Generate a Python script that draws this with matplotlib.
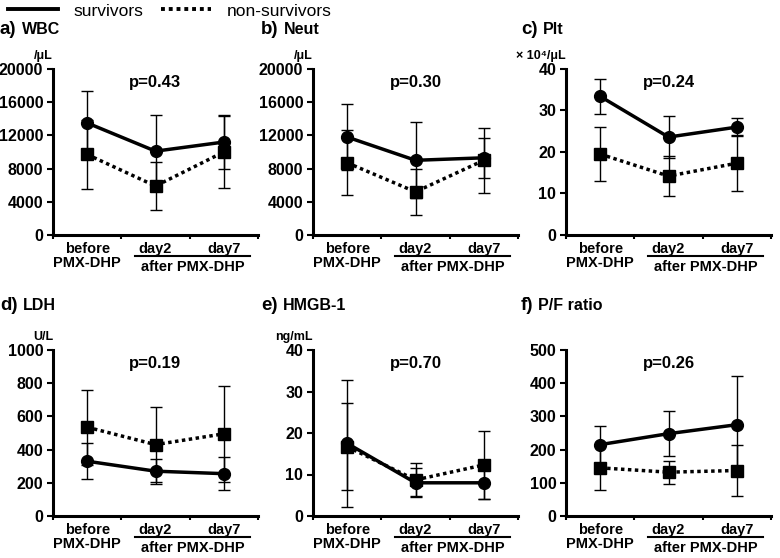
#!/usr/bin/env python3

from matplotlib import pyplot as plt
from matplotlib.lines import Line2D
import matplotlib.transforms as mtransforms

plt.rcParams["font.family"] = ["Liberation Sans", "DejaVu Sans"]

FIGSIZE = (7.8, 5.58)

CATEGORIES = ["before\nPMX-DHP", "day2", "day7"]
GROUP_LABEL = "after PMX-DHP"

# panel letters, names, units, p values, y limits and ticks
LETTERS = ["a)", "b)", "c)", "d)", "e)", "f)"]
NAMES = ["WBC", "Neut", "Plt", "LDH", "HMGB-1", "P/F ratio"]
UNITS = ["/μL", "/μL", "× 10⁴/μL", "U/L", "ng/mL", ""]
PVALUES = ["p=0.43", "p=0.30", "p=0.24", "p=0.19", "p=0.70", "p=0.26"]
YMAX = [20000, 20000, 40, 1000, 40, 500]
YSTEP = [4000, 4000, 10, 200, 10, 100]

# mean and SD per panel (before, day2, day7)
surv_mean = [
    [13500, 10100, 11200],
    [11800, 9000, 9300],
    [33.4, 23.6, 26.0],
    [330, 270, 255],
    [17.5, 8.0, 8.0],
    [215, 248, 275],
]
surv_sd = [
    [3800, 4400, 3300],
    [4000, 4600, 2400],
    [4.2, 5.0, 2.2],
    [110, 75, 100],
    [15.3, 3.5, 4.0],
    [55, 67, 147],
]
nonsurv_mean = [
    [9700, 5900, 10000],
    [8700, 5200, 9000],
    [19.5, 14.2, 17.3],
    [535, 430, 495],
    [16.7, 8.7, 12.3],
    [145, 132, 137],
]
nonsurv_sd = [
    [4100, 2900, 4300],
    [3900, 2800, 3900],
    [6.5, 4.8, 6.8],
    [225, 225, 290],
    [10.5, 4.0, 8.2],
    [67, 35, 78],
]


def plot_panel(fig, rect, i):
    ax = fig.add_axes(rect)
    xs = [0.5, 1.5, 2.5]

    ax.errorbar(xs, nonsurv_mean[i], yerr=nonsurv_sd[i], fmt="s",
                linestyle=(0, (1, 1)), color="black", lw=2.5, ms=8,
                elinewidth=1, ecolor="black", capsize=4, capthick=1)
    ax.errorbar(xs, surv_mean[i], yerr=surv_sd[i], fmt="o-",
                color="black", lw=2.5, ms=8.5, elinewidth=1,
                ecolor="black", capsize=4, capthick=1)

    ax.set_xlim(0, 3)
    ax.set_ylim(0, YMAX[i])
    ax.set_yticks(range(0, YMAX[i] + 1, YSTEP[i]))
    ax.set_xticks([0, 1, 2, 3])
    ax.set_xticklabels([])
    ax.spines["top"].set_visible(False)
    ax.spines["right"].set_visible(False)
    ax.spines["left"].set_linewidth(2.2)
    ax.spines["bottom"].set_linewidth(2.2)
    ax.tick_params(axis="y", direction="out", length=4, width=1.5,
                   labelsize=11.5, pad=3)
    ax.tick_params(axis="x", direction="out", length=3, width=1.5)
    for lab in ax.get_yticklabels():
        lab.set_fontweight("bold")

    trans = mtransforms.blended_transform_factory(ax.transData, ax.transAxes)
    ax.text(1.5, 0.92, PVALUES[i], transform=trans, ha="center",
            va="center", fontsize=12, fontweight="bold")

    # category labels
    ax.text(0.5, -0.04, CATEGORIES[0], transform=trans, ha="center",
            va="top", fontsize=10.5, fontweight="bold", linespacing=1.05)
    ax.text(1.5, -0.04, CATEGORIES[1], transform=trans, ha="center",
            va="top", fontsize=10.5, fontweight="bold")
    ax.text(2.5, -0.04, CATEGORIES[2], transform=trans, ha="center",
            va="top", fontsize=10.5, fontweight="bold")
    ax.plot([1.2, 2.88], [-0.125, -0.125], transform=trans, color="black",
            lw=1.5, clip_on=False)
    ax.text(2.04, -0.15, GROUP_LABEL, transform=trans, ha="center",
            va="top", fontsize=10.5, fontweight="bold")

    # unit label
    ax.text(0.0, 1.04, UNITS[i], transform=ax.transAxes, ha="right",
            va="bottom", fontsize=9, fontweight="bold")
    return ax


def main():
    fig = plt.figure(figsize=FIGSIZE, dpi=100)

    lefts = [53 / 780, 313 / 780, 566 / 780]
    width = 205 / 780
    bottoms = [1 - 235 / 558, 1 - 516 / 558]
    height = 166 / 558

    title_x = [0 / 780, 261 / 780, 521 / 780]
    title_y = [1 - 29 / 558, 1 - 305 / 558]

    for i in range(6):
        r, c = divmod(i, 3)
        plot_panel(fig, [lefts[c], bottoms[r], width, height], i)
        t = fig.text(title_x[c], title_y[r], LETTERS[i], ha="left",
                     va="center", fontsize=13.5, fontweight="bold")
        fig.canvas.draw()
        bb = t.get_window_extent().transformed(fig.transFigure.inverted())
        fig.text(bb.x1 + 5 / 780, title_y[r], NAMES[i], ha="left",
                 va="center", fontsize=11.5, fontweight="bold")

    handles = [
        Line2D([], [], color="black", lw=2.8),
        Line2D([], [], color="black", lw=2.8, linestyle=(0, (1, 1))),
    ]
    fig.legend(handles, ["survivors", "non-survivors"], loc="upper left",
               bbox_to_anchor=(-0.01, 1.022), ncol=2, frameon=False,
               fontsize=12.5, handlelength=2.9, columnspacing=1.0,
               handletextpad=0.9)

    fig.savefig("out.png", dpi=100)


if __name__ == "__main__":
    main()
